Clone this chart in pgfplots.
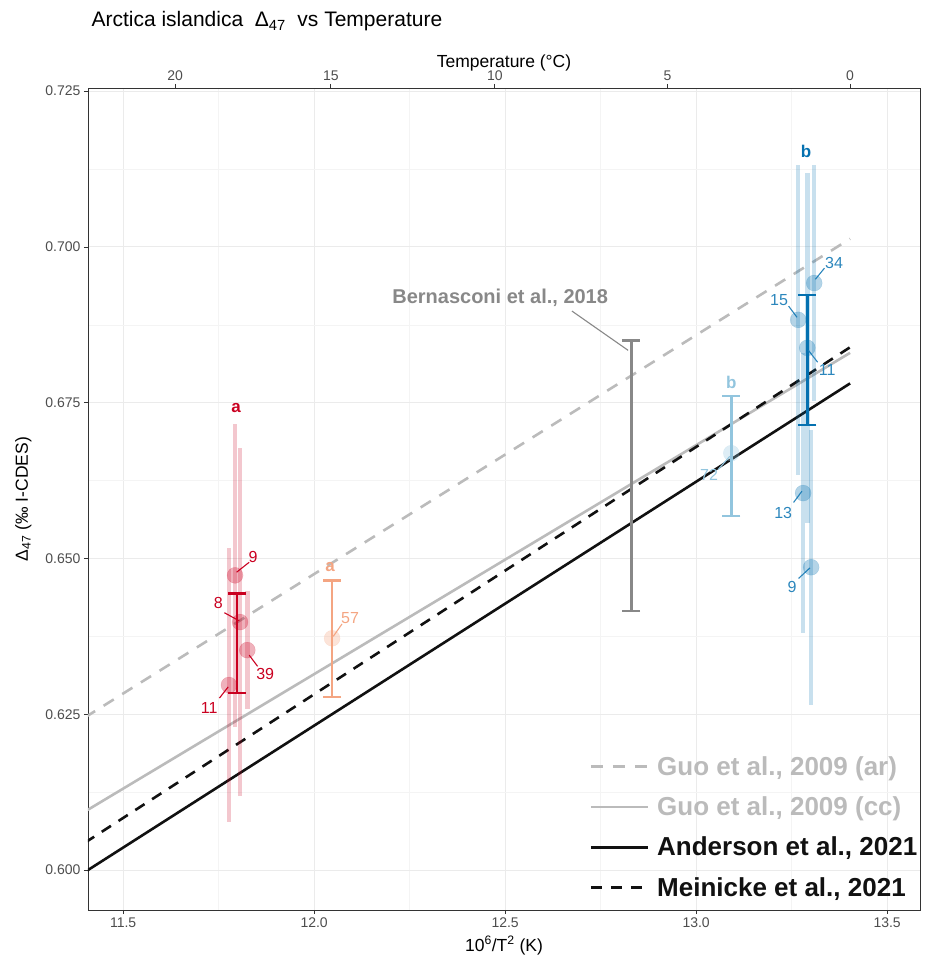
\documentclass[border=0pt]{standalone}
\usepackage{fontspec}
\setmainfont{Liberation Sans}
\usepackage{pgfplots}
\pgfplotsset{compat=1.18}
\usetikzlibrary{calc}
\definecolor{redc}{HTML}{CA0020}
\definecolor{orac}{HTML}{F4A582}
\definecolor{lbluc}{HTML}{92C5DE}
\definecolor{dbluc}{HTML}{0571B0}
\definecolor{bernc}{HTML}{888888}
\definecolor{guoc}{HTML}{BBBBBB}
\definecolor{blkc}{HTML}{111111}
\definecolor{framec}{HTML}{333333}
\definecolor{gridmaj}{HTML}{EBEBEB}
\definecolor{gridmin}{HTML}{F4F4F4}
\definecolor{tickc}{HTML}{4D4D4D}
\pgfplotsset{
  meanbar/.style={draw=none, mark=none, forget plot,
    error bars/.cd, y dir=both, y explicit,
    error bar style={draw=#1, line width=2.6pt},
    error mark options={rotate=90, mark size=9pt, line width=2.6pt, draw=#1}},
  palebar/.style={draw=none, mark=none, forget plot,
    error bars/.cd, y dir=both, y explicit, error mark=none,
    error bar style={draw=#1, draw opacity=0.22, line width=4.5pt}},
  pts/.style={only marks, mark=*, mark size=8pt, forget plot,
    mark options={fill=#1, fill opacity=0.3, draw=#1, draw opacity=0.2}},
}
\tikzset{
  lab/.style={font=\fontsize{16}{18}\selectfont, inner sep=1pt},
  grp/.style={font=\fontsize{17}{19}\selectfont\bfseries, inner sep=1pt},
  seg/.style={line width=1.1pt},
}
\begin{document}
\begin{tikzpicture}
\begin{axis}[name=ax, scale only axis, width=832pt, height=822pt,
  xmin=11.408, xmax=13.586, ymin=0.5936, ymax=0.7255,
  xtick={11.5,12,12.5,13,13.5}, ytick={0.600,0.625,0.650,0.675,0.700,0.725},
  minor x tick num=1, minor y tick num=1,
  grid=both, major grid style={line width=1pt, draw=gridmaj},
  minor grid style={line width=0.5pt, draw=gridmin},
  axis line style={draw=framec, line width=0.8pt},
  tick style={draw=framec, line width=0.8pt}, tick align=outside,
  major tick length=4pt, minor tick length=0pt,
  xtick pos=bottom, ytick pos=left,
  x tick label style={/pgf/number format/.cd, fixed, fixed zerofill, precision=1, /tikz/.cd},
  y tick label style={/pgf/number format/.cd, fixed, fixed zerofill, precision=3, /tikz/.cd},
  /pgf/number format/assume math mode=true,
  tick label style={font=\fontsize{14}{16}\selectfont, text=tickc},
  label style={font=\fontsize{17.5}{20}\selectfont},
  xlabel={10\textsuperscript{6}/T\textsuperscript{2} (K)},
  ylabel={Δ\textsubscript{47} (‰ I-CDES)},
  xlabel style={yshift=-2pt},
  ylabel style={yshift=7pt},
  legend style={at={(rel axis cs:0.599,0.192)}, anchor=north west, draw=none, fill=none,
    font=\fontsize{26}{30}\selectfont\bfseries, row sep=16pt, column sep=6pt},
  legend cell align=left,
  legend image code/.code={\draw[#1, line width=2.6pt] (0pt,0pt) -- (57pt,0pt);},
]
% calibration lines
\addplot[guoc, line width=2.6pt, dash pattern=on 12pt off 10pt] coordinates {(11.40,0.6245) (13.403,0.7013)};
\addlegendentry{\textcolor{guoc}{Guo et al., 2009 (ar)}}
\addplot[guoc, line width=2.6pt] coordinates {(11.40,0.6094) (13.403,0.6830)};
\addlegendentry{\textcolor{guoc}{Guo et al., 2009 (cc)}}
\addplot[blkc, line width=2.6pt] coordinates {(11.40,0.5997) (13.403,0.6781)};
\addlegendentry{\textcolor{blkc}{Anderson et al., 2021}}
\addplot[blkc, line width=2.6pt, dash pattern=on 11pt off 9pt] coordinates {(11.40,0.6044) (13.403,0.6839)};
\addlegendentry{\textcolor{blkc}{Meinicke et al., 2021}}

% individual samples: error bars
\addplot[palebar=redc] coordinates {
  (11.793,0.6473) +- (0,0.0243)
  (11.806,0.6398) +- (0,0.0279)
  (11.825,0.6353) +- (0,0.0095)
  (11.777,0.6297) +- (0,0.0220)};
\addplot[palebar=dbluc] coordinates {
  (13.309,0.6942) +- (0,0.0189)
  (13.267,0.6883) +- (0,0.0249)
  (13.291,0.6838) +- (0,0.0281)
  (13.280,0.6605) +- (0,0.0225)
  (13.301,0.6486) +- (0,0.0221)};

% individual samples: points
\addplot[pts=redc] coordinates {(11.793,0.6473) (11.806,0.6398) (11.825,0.6353) (11.777,0.6297)};
\addplot[pts=orac] coordinates {(12.047,0.6372)};
\addplot[pts=lbluc] coordinates {(13.092,0.6669)};
\addplot[pts=dbluc] coordinates {(13.309,0.6942) (13.267,0.6883) (13.291,0.6838) (13.280,0.6605) (13.301,0.6486)};

% group means
\addplot[meanbar=redc] coordinates {(11.798,0.6364) +- (0,0.0080)};
\addplot[meanbar=orac] coordinates {(12.047,0.63715) +- (0,0.00935)};
\addplot[meanbar=bernc] coordinates {(12.830,0.6633) +- (0,0.0217)};
\addplot[meanbar=lbluc] coordinates {(13.092,0.66645) +- (0,0.00965)};
\addplot[meanbar=dbluc] coordinates {(13.291,0.68185) +- (0,0.01045)};

% labels
\node[grp, text=redc] at (axis cs:11.796,0.6741) {a};
\node[grp, text=orac] at (axis cs:12.042,0.6486) {a};
\node[grp, text=lbluc] at (axis cs:13.092,0.6783) {b};
\node[grp, text=dbluc] at (axis cs:13.288,0.7154) {b};

\draw[seg, redc] (axis cs:11.797,0.6478) -- (axis cs:11.830,0.6494);
\node[lab, text=redc] at (axis cs:11.840,0.6503) {9};
\draw[seg, redc] (axis cs:11.765,0.6413) -- (axis cs:11.804,0.6400);
\node[lab, text=redc] at (axis cs:11.749,0.6428) {8};
\draw[seg, redc] (axis cs:11.830,0.6345) -- (axis cs:11.852,0.6327);
\node[lab, text=redc] at (axis cs:11.872,0.6314) {39};
\draw[seg, redc] (axis cs:11.752,0.6276) -- (axis cs:11.775,0.6294);
\node[lab, text=redc] at (axis cs:11.725,0.6260) {11};

\draw[seg, orac] (axis cs:12.050,0.6375) -- (axis cs:12.073,0.6395);
\node[lab, text=orac] at (axis cs:12.094,0.6404) {57};

\draw[bernc, line width=1.1pt] (axis cs:12.675,0.6897) -- (axis cs:12.822,0.6834);
\node[font=\fontsize{20}{23}\selectfont\bfseries, text=bernc] at (axis cs:12.487,0.6919) {Bernasconi et al., 2018};

\draw[seg, lbluc] (axis cs:13.058,0.6643) -- (axis cs:13.088,0.6664);
\node[lab, text=lbluc] at (axis cs:13.034,0.6634) {72};

\draw[seg, dbluc!85!white] (axis cs:13.312,0.6948) -- (axis cs:13.336,0.6966);
\node[lab, text=dbluc!85!white] at (axis cs:13.361,0.6974) {34};
\draw[seg, dbluc!85!white] (axis cs:13.242,0.6905) -- (axis cs:13.264,0.6887);
\node[lab, text=dbluc!85!white] at (axis cs:13.217,0.6915) {15};
\draw[seg, dbluc!85!white] (axis cs:13.294,0.6834) -- (axis cs:13.318,0.6815);
\node[lab, text=dbluc!85!white] at (axis cs:13.343,0.6802) {11};
\draw[seg, dbluc!85!white] (axis cs:13.255,0.6590) -- (axis cs:13.277,0.6608);
\node[lab, text=dbluc!85!white] at (axis cs:13.228,0.6573) {13};
\draw[seg, dbluc!85!white] (axis cs:13.268,0.6468) -- (axis cs:13.298,0.6485);
\node[lab, text=dbluc!85!white] at (axis cs:13.251,0.6454) {9};
\end{axis}

\begin{axis}[scale only axis, width=832pt, height=822pt,
  xmin=11.408, xmax=13.586, ymin=0, ymax=1,
  axis x line*=top, axis y line=none,
  axis line style={draw=none},
  xtick={11.6364,12.0438,12.4729,12.9253,13.4029},
  xticklabels={20,15,10,5,0},
  tick align=outside, major tick length=4pt,
  tick style={draw=framec, line width=0.8pt},
  tick label style={font=\fontsize{14}{16}\selectfont, text=tickc},
  label style={font=\fontsize{17.5}{20}\selectfont},
  xlabel={Temperature (°C)},
  xlabel style={yshift=-7pt},
]
\end{axis}

\node[anchor=base west, font=\fontsize{21}{24}\selectfont] at ($(ax.north west)+(0pt,61pt)$)
  {Arctica islandica\ \ Δ\textsubscript{47}\ \ vs Temperature};

\pgfresetboundingbox
\path[use as bounding box] ($(ax.south west)+(-88pt,-52pt)$) rectangle ($(ax.north east)+(9pt,88pt)$);
\end{tikzpicture}
\end{document}
